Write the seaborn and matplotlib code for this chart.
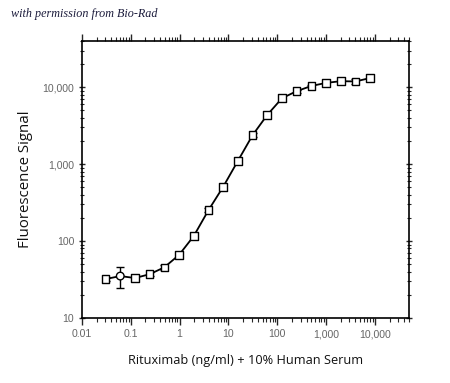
import numpy as np
import pandas as pd
import seaborn as sns
import matplotlib.pyplot as plt
import matplotlib.ticker as tick

# two-fold dilution series of rituximab (ng/ml)
conc = [0.0305, 0.061, 0.122, 0.244, 0.488, 0.977, 1.95, 3.91, 7.81, 15.6,
        31.25, 62.5, 125, 250, 500, 1000, 2000, 4000, 8000]
signal = [32, 35, 33, 37, 45.5, 66, 116, 252, 507, 1100,
          2380, 4370, 7200, 8900, 10400, 11400, 12000, 11900, 13200]
err = [2, 10.5, 1.5, 2, 3, 4, 7, 15, 30, 60,
       130, 250, 350, 400, 450, 500, 700, 900, 1000]
shape = ['s', 'o', 's', 's', 's', 's', 's', 's', 's', 's',
         's', 's', 's', 's', 's', 's', 's', 's', 's']

x_ticks = [0.01, 0.1, 1, 10, 100, 1000, 10000]
x_ticklabels = ['0.01', '0.1', '1', '10', '100', '1,000', '10,000']
y_ticks = [10, 100, 1000, 10000]
y_ticklabels = ['10', '100', '1,000', '10,000']

df = pd.DataFrame({'conc': conc, 'signal': signal, 'err': err, 'shape': shape})

sns.set_style('ticks')
plt.rcParams['font.family'] = ['Liberation Sans', 'DejaVu Sans']

fig = plt.figure(figsize=(4.5, 3.83), dpi=100)
ax = fig.add_axes([0.182, 0.170, 0.727, 0.723])

sns.lineplot(data=df, x='conc', y='signal', color='black', lw=1.3, ax=ax, zorder=2)
ax.errorbar(df['conc'], df['signal'], yerr=df['err'], fmt='none', ecolor='black',
            elinewidth=1, capsize=3, capthick=1, zorder=3)
sns.scatterplot(data=df, x='conc', y='signal', style='shape', markers={'s': 's', 'o': 'o'},
                s=30, color='white', edgecolor='black', linewidth=1, legend=False, ax=ax, zorder=4)

ax.set_xscale('log')
ax.set_yscale('log')
ax.set_xlim(0.01, 50000)
ax.set_ylim(10, 40000)
ax.set_xticks(x_ticks)
ax.set_xticklabels(x_ticklabels)
ax.set_yticks(y_ticks)
ax.set_yticklabels(y_ticklabels)
ax.xaxis.set_minor_locator(tick.LogLocator(base=10, subs=np.arange(2, 10)))
ax.yaxis.set_minor_locator(tick.LogLocator(base=10, subs=np.arange(2, 10)))
ax.yaxis.set_minor_formatter(tick.NullFormatter())
ax.xaxis.set_minor_formatter(tick.NullFormatter())

for sp in ax.spines.values():
    sp.set_linewidth(1.2)
    sp.set_color('black')
ax.tick_params(axis='both', which='major', labelsize=7.6, labelcolor='#666666', length=5, width=1, pad=3)
ax.tick_params(axis='both', which='minor', length=3, width=0.8)
ax.tick_params(axis='x', which='both', direction='out', top=True)
ax.tick_params(axis='y', which='both', direction='inout', right=True)

ax.set_xlabel('Rituximab (ng/ml) + 10% Human Serum', fontsize=9.2, family=['Open Sans', 'DejaVu Sans'],
              labelpad=11, color='#111111')
ax.set_ylabel('Fluorescence Signal', fontsize=10.8, family=['Open Sans', 'DejaVu Sans'],
              labelpad=7, color='#111111')

fig.text(0.024, 0.955, 'with permission from Bio-Rad', fontsize=8.7, style='italic',
         family=['Liberation Serif', 'DejaVu Serif'], color='#1c1c3c')

fig.savefig('out.png', dpi=100)
